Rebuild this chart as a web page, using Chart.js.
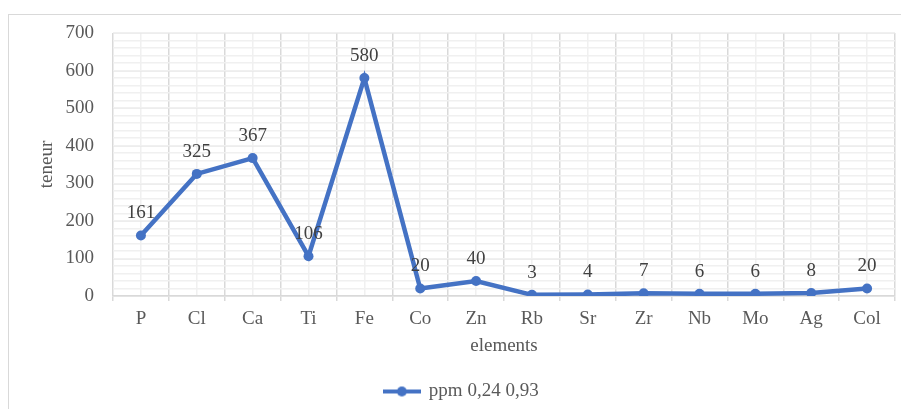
<!DOCTYPE html>
<html>
<head>
<meta charset="utf-8">
<script src="https://cdn.jsdelivr.net/npm/chart.js@4.4.1/dist/chart.umd.min.js"></script>
<style>
  html, body { margin: 0; padding: 0; background: #fff; overflow: hidden; }
  #frame {
    position: absolute; left: 8px; top: 14px; width: 1000px; height: 500px;
    border: 1px solid #d9d9d9; box-sizing: border-box;
  }
  #wrap { position: absolute; left: 0; top: 0; width: 901px; height: 409px; }
</style>
</head>
<body>
<div id="frame"></div>
<div id="wrap"><canvas id="chart" width="901" height="409"></canvas></div>
<script>
const elements = ["P", "Cl", "Ca", "Ti", "Fe", "Co", "Zn", "Rb", "Sr", "Zr", "Nb", "Mo", "Ag", "Col"];
const teneur = [161, 325, 367, 106, 580, 20, 40, 3, 4, 7, 6, 6, 8, 20];
const seriesName = "ppm 0,24 0,93";
const yMin = 0;
const yMax = 700;
const yMajorStep = 100;
const yMinorStep = 20;

const blue = "#4472C4";
const textColor = "#595959";
const labelColor = "#404040";
const majorGrid = "#d9d9d9";
const minorGrid = "#f0f0f0";
const serif = "'Liberation Serif', 'Times New Roman', serif";
const fontSize = 19;

// legend marker: line with a dot, like the excel one
function legendMarker() {
  const c = document.createElement("canvas");
  c.width = 38;
  c.height = 12;
  const g = c.getContext("2d");
  g.strokeStyle = blue;
  g.lineWidth = 4;
  g.beginPath();
  g.moveTo(0, 6);
  g.lineTo(38, 6);
  g.stroke();
  g.fillStyle = blue;
  g.beginPath();
  g.arc(19, 6, 5, 0, Math.PI * 2);
  g.fill();
  return c;
}

const valueLabels = {
  id: "valueLabels",
  afterDatasetsDraw(chart) {
    const ctx = chart.ctx;
    const meta = chart.getDatasetMeta(0);
    const data = chart.data.datasets[0].data;
    ctx.save();
    ctx.font = `${fontSize}px ${serif}`;
    ctx.fillStyle = labelColor;
    ctx.textAlign = "center";
    ctx.textBaseline = "middle";
    meta.data.forEach((pt, i) => {
      ctx.fillText(String(data[i]), pt.x, pt.y - 22);
    });
    ctx.restore();
  }
};

new Chart(document.getElementById("chart"), {
  type: "line",
  data: {
    labels: elements,
    datasets: [{
      label: seriesName,
      data: teneur,
      borderColor: blue,
      backgroundColor: blue,
      borderWidth: 4.5,
      pointRadius: 5,
      pointHoverRadius: 5,
      pointBackgroundColor: blue,
      pointBorderWidth: 0,
      tension: 0,
      fill: false,
      xAxisID: "x",
      yAxisID: "y"
    }]
  },
  options: {
    responsive: false,
    animation: false,
    layout: { padding: { left: 28, right: 6, top: 33, bottom: -2 } },
    plugins: {
      tooltip: { enabled: false },
      legend: {
        position: "bottom",
        labels: {
          color: textColor,
          font: { family: serif, size: fontSize },
          usePointStyle: true,
          pointStyle: legendMarker(),
          pointStyleWidth: 35,
          padding: 10
        }
      }
    },
    scales: {
      x: {
        type: "category",
        position: "bottom",
        offset: true,
        z: 0,
        grid: { offset: true, color: majorGrid, lineWidth: 1.5, tickLength: 5, drawTicks: true },
        border: { color: majorGrid, width: 1.5 },
        ticks: { color: textColor, font: { family: serif, size: fontSize }, padding: 7 },
        title: {
          display: true, text: "elements", color: textColor,
          font: { family: serif, size: fontSize }, padding: { top: 0, bottom: 15 }
        },
        afterFit: s => { s.height = 76; }
      },
      x2: {
        type: "category",
        position: "bottom",
        offset: true,
        z: -1,
        grid: { offset: false, color: minorGrid, lineWidth: 1.5, drawTicks: false },
        border: { display: false },
        ticks: { display: false },
        afterFit: s => { s.height = 0; }
      },
      y: {
        position: "left",
        min: yMin,
        max: yMax,
        z: 0,
        grid: { color: majorGrid, lineWidth: 1.5, drawTicks: false },
        border: { display: false },
        ticks: { stepSize: yMajorStep, color: textColor, font: { family: serif, size: fontSize }, padding: 19 },
        title: {
          display: true, text: "teneur", color: textColor,
          font: { family: serif, size: fontSize }, padding: { top: 8, bottom: 0 }
        },
        afterFit: s => { s.width = 85; }
      },
      y2: {
        position: "right",
        min: yMin,
        max: yMax,
        z: -1,
        grid: { color: minorGrid, lineWidth: 1.5, drawTicks: false },
        border: { display: false },
        ticks: { display: false, stepSize: yMinorStep },
        afterFit: s => { s.width = 0; }
      }
    }
  },
  plugins: [valueLabels]
});
</script>
</body>
</html>
